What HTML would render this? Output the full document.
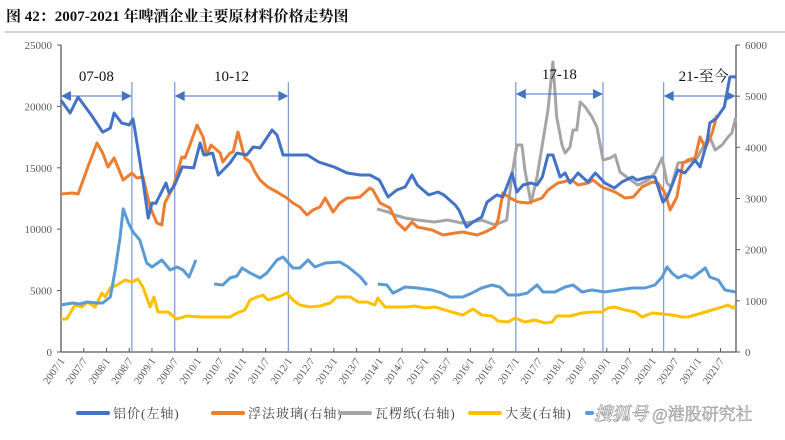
<!DOCTYPE html>
<html><head><meta charset="utf-8">
<style>
body{margin:0;background:#fff;width:785px;height:435px;overflow:hidden;font-family:"Liberation Serif","Noto Serif CJK SC",serif;}
svg text{font-family:"Liberation Serif","Noto Serif CJK SC",serif;}
</style></head>
<body>
<svg id="chart" width="785" height="435" xmlns="http://www.w3.org/2000/svg">
<text x="6" y="21" font-size="15" font-weight="bold" fill="#111">图 42：2007-2021 年啤酒企业主要原材料价格走势图</text>
<line x1="5" y1="32" x2="785" y2="32" stroke="#aaa" stroke-width="1"/>
<g id="plot"></g>
</svg>
<script>
// ---- data ----
const xLabels=["2007/1","2007/7","2008/1","2008/7","2009/1","2009/7","2010/1","2010/7","2011/1","2011/7","2012/1","2012/7","2013/1","2013/7","2014/1","2014/7","2015/1","2015/7","2016/1","2016/7","2017/1","2017/7","2018/1","2018/7","2019/1","2019/7","2020/1","2020/7","2021/1","2021/7"];
const leftTicks=[0,5000,10000,15000,20000,25000];
const rightTicks=[0,1000,2000,3000,4000,5000,6000];
const alMonths=[0,2.4,4.5,8,11,13,14,16,18,19,19.5,21.6,23,24,25,27.7,28.5,30,32,35,36.7,37.7,40,41.5,44.6,46.4,49,50.7,52.5,55.7,57,58.6,60.4,65,68,72,75.5,79,81.5,84,86.3,88.6,90.8,92.6,94,97,99.5,101,104,105,107,108.7,111,112.4,115,116.6,119,120.3,121.9,124,125.6,127,128.5,129.8,131.7,133,134.3,136.4,139,141,143.5,146,148,150.7,152,154.9,156.7,158.8,160,162.8,164.6,167.3,168.6,170.4,171.2,173,175,176.5,178];
const alValues=[20500,19460,20760,19300,17900,18240,19460,18650,18490,18970,18080,14000,10900,12130,12100,13760,12950,13600,15070,14990,17020,16040,16200,14410,15390,16200,16040,16690,16610,18080,17670,16040,16040,16040,15470,15070,14580,14410,14410,14000,12620,13190,13440,14410,13600,12790,13030,12790,11970,11560,10180,10590,10990,12210,12790,12620,14580,13030,13600,13760,13600,14250,16040,16040,14250,14580,13760,14580,13840,14580,13760,13350,13840,14250,14000,14250,14250,12210,12620,14820,14580,15630,15070,17020,18650,19060,19950,22400,22400];
const glassMonths=[0,3,4.5,7,9.5,11,12.4,14,16.4,18.7,20,21.6,23.5,25.3,26.6,27.4,29.6,31.9,32.7,34,35.9,37.5,38.5,39.6,42,42.7,44.6,45.4,46.7,48.5,49.9,51.2,52.5,54.6,57,59.6,61.2,63,64.9,66.5,68.3,69.7,71.8,73.6,75.5,77,78.9,81.5,82.3,84.2,86.8,88.6,90.8,92.6,94,97.9,100.8,104,106,109.8,111.9,114.5,115.3,116.6,118.5,120.6,123.2,126.9,128.5,131.1,134.8,136.4,139.1,140.4,142.7,146.2,148.8,151,153.3,156,157.5,159.4,160.7,162.5,164.1,165.4,167.3,168.6,170,171.8,173.1];
const glassValues=[3088,3107,3088,3596,4085,3889,3616,3792,3362,3498,3400,3420,2834,2521,2482,2912,3225,3811,3792,4046,4436,4202,3850,4046,3889,3713,3889,3909,4300,3792,3713,3518,3362,3225,3127,3010,2912,2834,2677,2775,2834,3010,2736,2912,3010,3010,3029,3205,3166,2912,2814,2541,2384,2541,2443,2384,2287,2326,2345,2287,2345,2443,2580,3107,3010,2932,2912,3010,3166,3303,3362,3264,3303,3362,3225,3127,3010,3029,3225,3323,3303,3107,2775,3029,3694,3752,3792,4202,3987,4280,4632];
const paperMonths=[83.4,86.3,88,90.8,94,98.5,102,105.8,108.4,111,114.5,117.6,118.9,120.3,121.6,122.4,124,125.6,127.2,128.5,129.8,130.8,132.2,133,134.3,135.1,136.1,137,138.3,140.1,141.4,143,144.9,146.2,147.5,149.6,152.2,154.9,156.7,158.6,159.9,161,162.8,165.1,167.8,170,171.2,172.6,174.4,176,177,178];
const paperValues=[2795,2736,2677,2619,2580,2541,2580,2521,2541,2580,2482,2580,3420,4046,4046,3557,2912,3420,4143,4729,5667,4593,4046,3889,4006,4339,4339,4886,4788,4593,4397,3752,3792,3850,3518,3400,3264,3362,3498,3792,3303,3225,3694,3713,3792,4085,4202,3948,4046,4202,4280,4573];
const barleyMonths=[0,1.5,3.7,5.5,7.1,9,10.8,11.6,13,14.8,16.9,18.7,20.3,21.6,23.5,24.5,25.6,28.2,30.6,33.2,36.7,41.2,44.6,46.4,48.5,49.9,51.7,53.3,54.6,57.3,59.6,61.2,63,65.7,68.3,71,72.8,76.3,78.4,80.7,82.8,83.6,85.5,89,90.8,93.4,96,98.7,101.3,104,106,108.7,111,113.7,115.3,118,119.8,122.4,125,127.7,129.6,130.8,134.3,137.5,140.1,142.7,144.3,146.2,148.8,151.5,153.3,156,158.6,161.2,163.9,165.4,169.1,171.8,174.4,176,177.3,178];
const barleyValues=[645,645,918,880,977,880,1153,1075,1251,1309,1407,1368,1427,1270,880,1075,782,782,645,704,684,684,684,762,821,1016,1075,1114,1016,1075,1153,1016,918,880,899,958,1075,1075,977,977,918,1055,880,880,880,899,860,880,821,762,723,840,723,704,606,586,664,586,625,567,586,704,704,762,782,782,860,880,821,782,684,762,743,723,684,684,762,821,880,918,860,899];
// light blue series (null = gap)
const otherMonths=[0,3,5,6.8,9.5,11,13,14.3,15.6,16.4,17.8,19,20.8,22.6,24,26.6,28.8,30.6,32.2,33.8,35.6,38,40.4,42.7,44.6,46.4,47.8,49.4,52.5,54.3,57,58.6,61.2,63,65.2,67,69.7,73.6,75.8,79,80.7,82,83.6,86,87.6,90.8,94,97.9,100.5,102.6,106,108.4,111,113.7,115.8,118,120.6,123,125.6,127.2,130.3,133,135.1,137.5,140.1,143.5,147,150.7,154.1,156.7,158.6,159.9,161.2,162.8,164.6,166.5,170,171.2,173.4,175.2,178];
const otherValues=[3830,3990,3910,4070,3990,3990,4480,6680,9360,11650,10500,9770,9120,7250,6920,7490,6680,6920,6680,6110,7490,null,5540,5460,6030,6190,6840,6520,6030,6430,7490,7740,6840,6840,7490,6920,7250,7330,6920,6110,5460,null,5540,5460,4800,5290,5210,5050,4800,4480,4480,4800,5210,5460,5290,4640,4640,4800,5460,4890,4890,5290,5460,4890,5050,4890,5050,5210,5210,5460,6110,6920,6430,6030,6270,6030,6840,6110,5860,5050,4890];
const periodLabels=["07-08","10-12","17-18","21-至今"];
const periodStart=[0,30,120,159];
const periodEnd=[18.7,60,143,178];
const periodLines=[18.7,30,60,120,143,159];

// ---- axes ----
const X0=61,X1=736,Y0=352,Y1=45,MPX=3.79;
const xs=m=>X0+m*MPX;
const yl=v=>Y0-(v/25000)*(Y0-Y1);
const yr=v=>Y0-(v/6000)*(Y0-Y1);
const NS="http://www.w3.org/2000/svg";
const g=document.getElementById('plot');
function mk(t,a){const e=document.createElementNS(NS,t);for(const k in a)e.setAttribute(k,a[k]);g.appendChild(e);return e;}

let e=mk('line',{x1:X0,y1:Y1,x2:X0,y2:Y0,stroke:'#595959','stroke-width':1.3});


e=mk('line',{x1:X1,y1:Y1,x2:X1,y2:Y0,stroke:'#595959','stroke-width':1.3});


e=mk('line',{x1:X0,y1:Y0,x2:X1,y2:Y0,stroke:'#595959','stroke-width':1.3});


leftTicks.forEach(v=>{
  const t=mk('line',{x1:X0-4,y1:yl(v),x2:X0,y2:yl(v),stroke:'#595959'});
  
  
  const l=mk('text',{x:X0-9,y:yl(v)+4,'text-anchor':'end','font-size':11,fill:'#595959'});l.textContent=v;
  
  
});
rightTicks.forEach(v=>{
  const t=mk('line',{x1:X1,y1:yr(v),x2:X1+4,y2:yr(v),stroke:'#595959'});
  
  
  const l=mk('text',{x:X1+9,y:yr(v)+4,'font-size':11,fill:'#595959'});l.textContent=v;
  
  
});
xLabels.forEach((s,i)=>{
  const x=xs(i*6);
  const t=mk('line',{x1:x,y1:Y0,x2:x,y2:Y0-4,stroke:'#595959'});
  
  
  const l=mk('text',{x:x+4,y:Y0+9,'text-anchor':'end','font-size':10.5,fill:'#595959',transform:`rotate(-55 ${x+4} ${Y0+9})`});l.textContent=s;
  
  
});
periodLines.forEach(m=>{
  const l=mk('line',{x1:xs(m),y1:82,x2:xs(m),y2:Y0,stroke:'#7f9fd5','stroke-width':1.3});
  
  
});
function series(ms,vs,sc,color,name){
  let d='',pen=false;
  ms.forEach((m,i)=>{const v=vs[i];if(v==null){pen=false;return;}d+=(pen?'L':'M')+xs(m).toFixed(1)+' '+sc(v).toFixed(1);pen=true;});
  const p=mk('path',{d,fill:'none',stroke:color,'stroke-width':3,'stroke-linejoin':'round'});
  
  
}
series(barleyMonths,barleyValues,yr,'#ffc000','barley-line');
series(otherMonths,otherValues,yl,'#5b9bd5','other-material-line');
series(paperMonths,paperValues,yr,'#a5a5a5','corrugated-paper-line');
series(glassMonths,glassValues,yr,'#ed7d31','float-glass-line');
series(alMonths,alValues,yl,'#4472c4','aluminum-line');
periodLabels.forEach((s,i)=>{
  const a=xs(periodStart[i]),b=xs(periodEnd[i]);const y=i==2?94:96;
  const l=mk('line',{x1:a+8,y1:y,x2:b-8,y2:y,stroke:'#4472c4','stroke-width':1});
  
  
  const h1=mk('polygon',{points:`${a},${y} ${a+10},${y-5} ${a+10},${y+5}`,fill:'#4472c4'});
  
  
  const h2=mk('polygon',{points:`${b},${y} ${b-10},${y-5} ${b-10},${y+5}`,fill:'#4472c4'});
  
  
  const t=mk('text',{x:(a+b)/2+(i==3?4:0),y:y-15,'text-anchor':'middle','font-size':15,fill:'#111'});t.textContent=s;
  
  
});
const legNames=["铝价(左轴)","浮法玻璃(右轴)","瓦楞纸(右轴)","大麦(右轴)"];
const legColors=["#4472c4","#ed7d31","#a5a5a5","#ffc000"];
const legX=[78,213,340,470];
legNames.forEach((s,i)=>{
  const l=mk('line',{x1:legX[i],y1:413,x2:legX[i]+30,y2:413,stroke:legColors[i],'stroke-width':4,'stroke-linecap':'round'});
  
  
  const t=mk('text',{x:legX[i]+35,y:418,'font-size':13,fill:'#444','letter-spacing':1});t.textContent=s;
  
  
});
e=mk('line',{x1:587,y1:413,x2:592,y2:413,stroke:'#5b9bd5','stroke-width':4,'stroke-linecap':'round'});


e=mk('text',{x:594,y:420,'font-size':18,fill:'#e8e8e8',stroke:'#9a9a9a','stroke-width':0.6,'font-style':'italic','font-weight':'bold'});e.textContent='搜狐号';


e=mk('text',{x:652,y:420,'font-size':17,fill:'#e8e8e8',stroke:'#9a9a9a','stroke-width':0.6});e.textContent='@港股研究社';


</script>
</body></html>
